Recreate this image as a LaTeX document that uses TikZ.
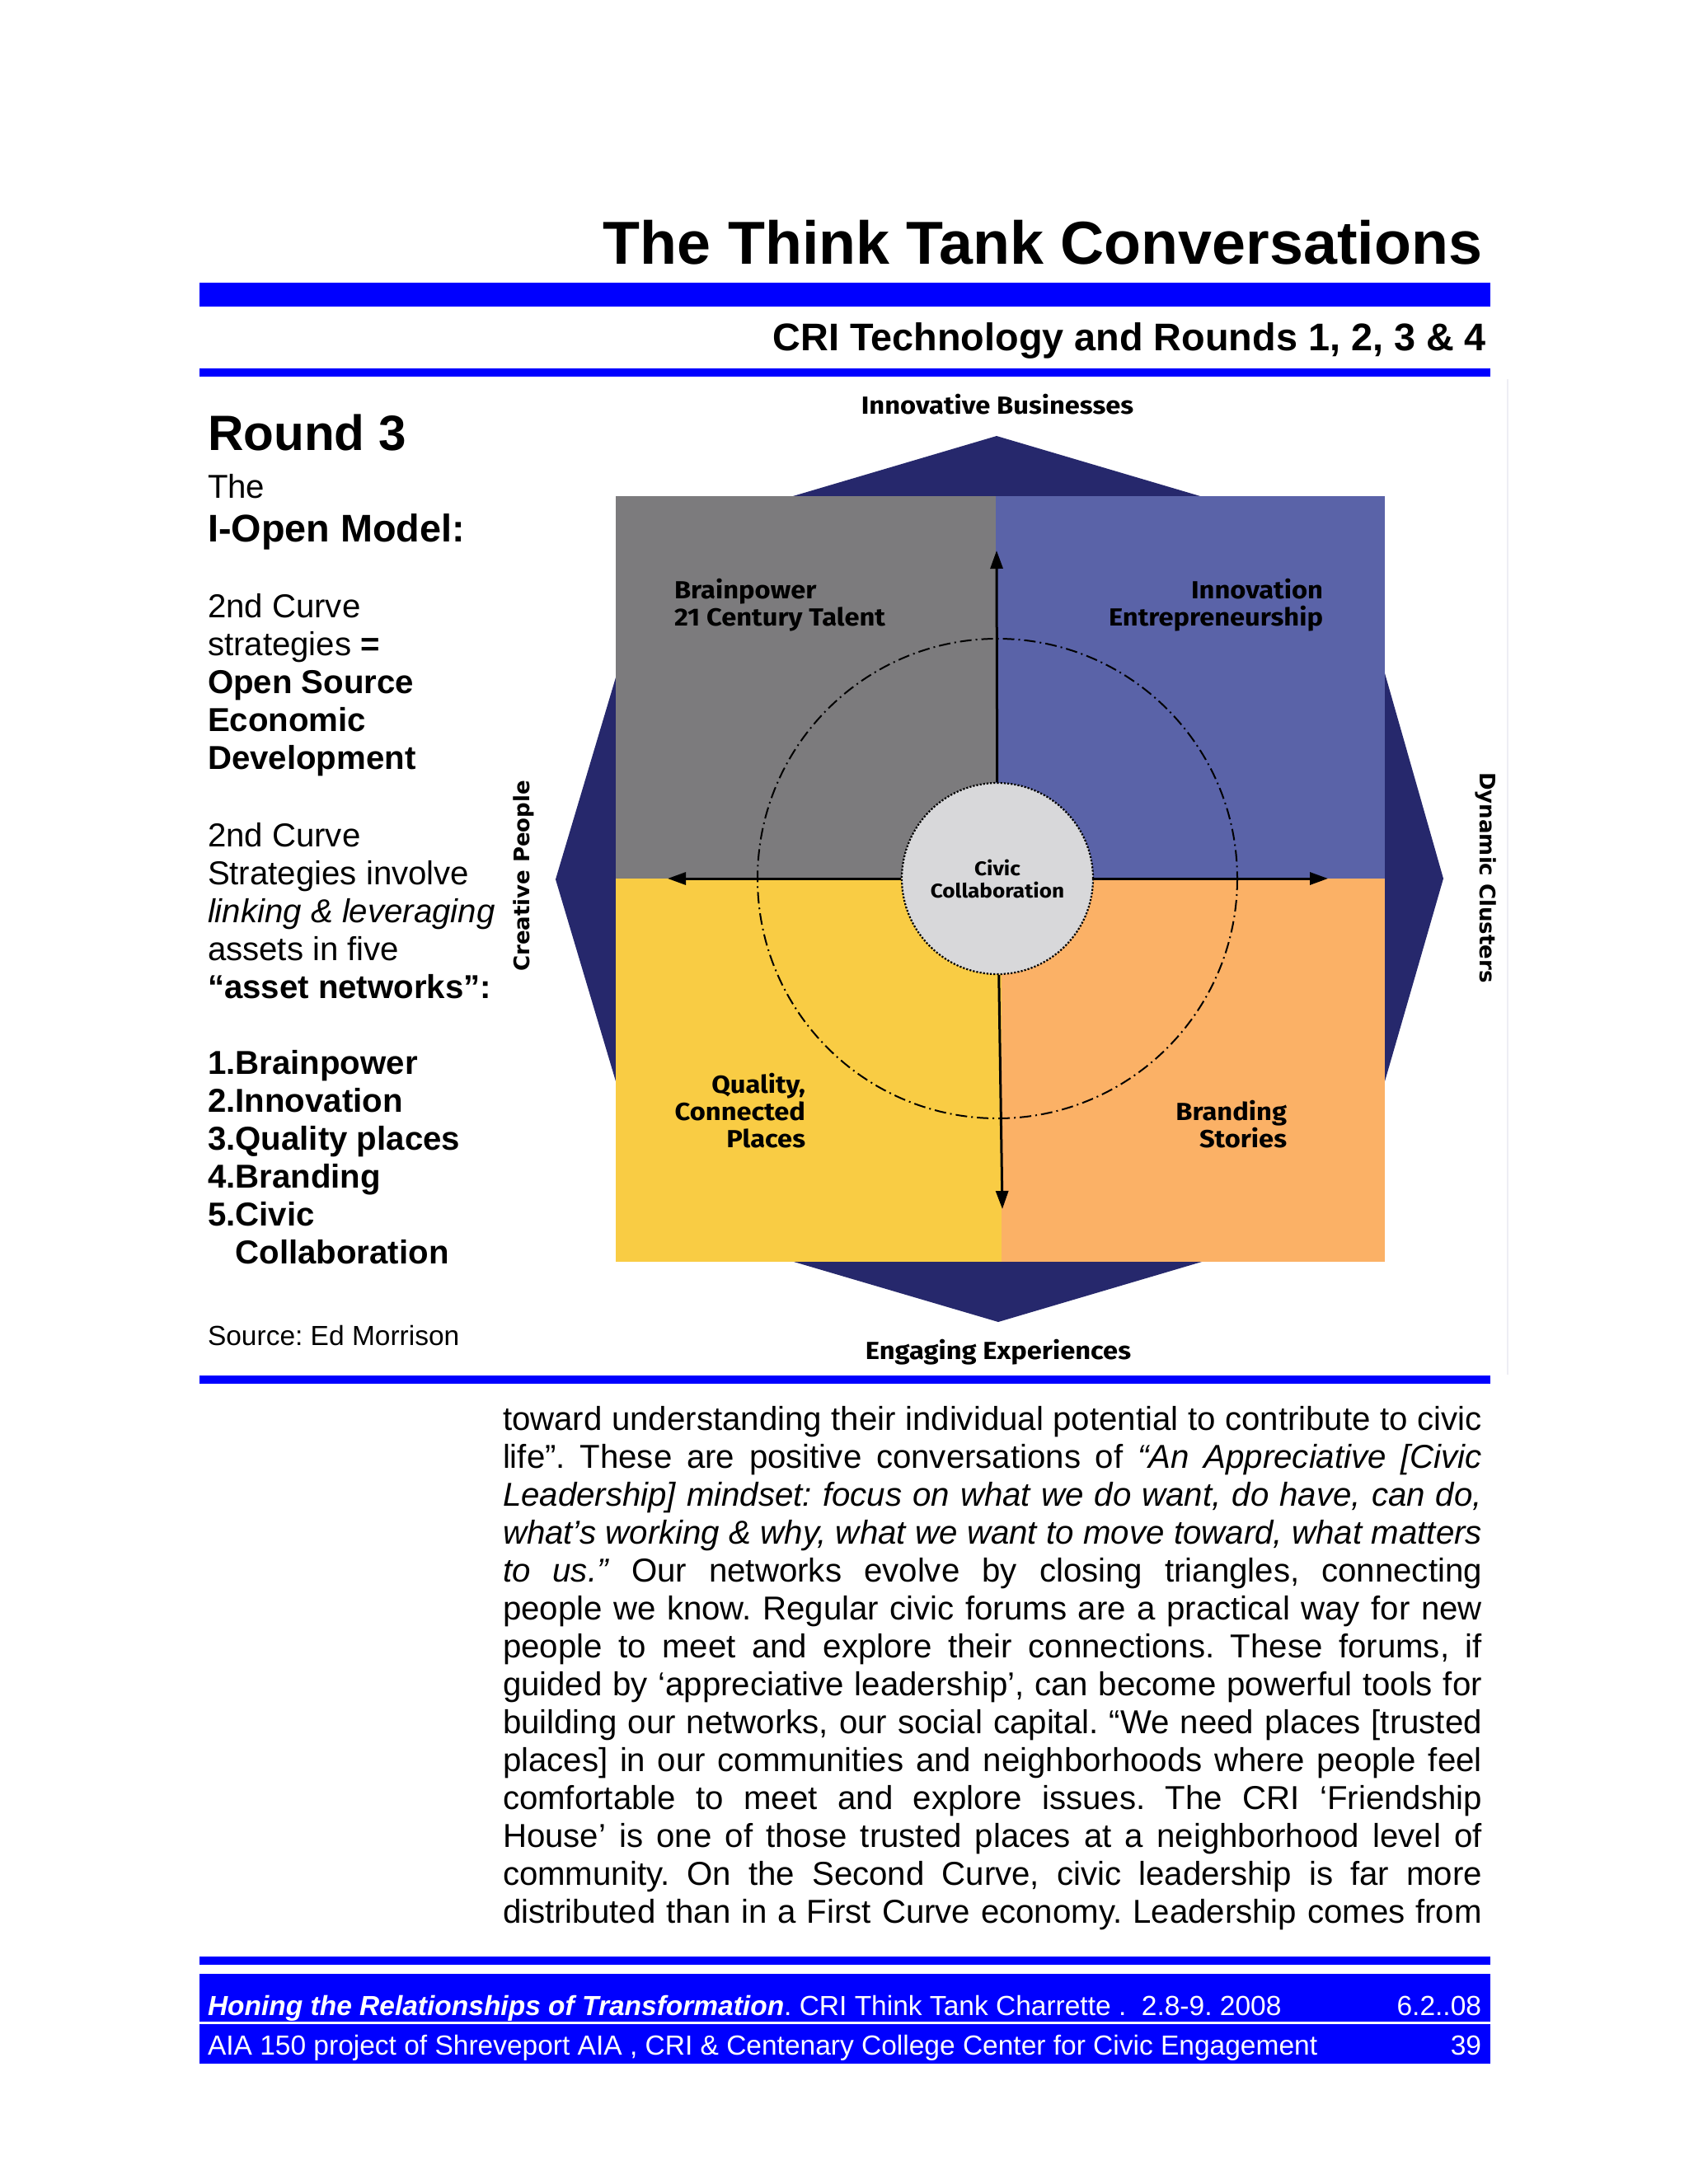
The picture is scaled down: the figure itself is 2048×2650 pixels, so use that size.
\documentclass[tikz,border=0pt]{standalone}
\usepackage{fontspec}
\setmainfont{Liberation Sans}
\newfontfamily\gillfont{Fira Sans}[FakeStretch=1.09]
\newfontfamily\verdfont{DejaVu Sans}
\usetikzlibrary{arrows.meta}
\definecolor{pageblue}{RGB}{0,0,255}
\definecolor{navy}{RGB}{38,40,108}
\definecolor{qgray}{RGB}{124,123,125}
\definecolor{qblue}{RGB}{90,99,168}
\definecolor{qyellow}{RGB}{249,204,68}
\definecolor{qorange}{RGB}{251,177,102}
\definecolor{civgray}{RGB}{216,216,218}
\definecolor{faint}{RGB}{238,238,244}
\newcommand\setfs[2]{\fontsize{#1}{#2}\selectfont}
\frenchspacing
\begin{document}
\begin{tikzpicture}[x=1pt,y=-1pt,
  txt/.style={inner sep=0pt, outer sep=0pt},
  lw/.style={txt, anchor=base west},
  le/.style={txt, anchor=base east},
  body/.style={lw, font=\setfs{40.2}{46}},
  bodyb/.style={lw, font=\bfseries\setfs{40.2}{46}},
  dlab/.style={txt, font=\gillfont\bfseries\setfs{30}{33}},
  slab/.style={txt, font=\verdfont\bfseries\setfs{26}{30}},
  arr/.style={line width=3pt, -{Triangle[length=22pt,width=15pt]}},
  foot/.style={txt, text=white, font=\setfs{33.5}{38}},
  para/.style={lw, font=\frenchspacing\setfs{40.2}{46}}
]
\useasboundingbox (0,0) rectangle (2048,2650);
\fill[white] (0,0) rectangle (2048,2650);

% header
\node[le, font=\bfseries\setfs{73.6}{80}] (title) at (1798,320) {The Think Tank Conversations};
\fill[pageblue] (242,343) rectangle (1808,372);
\node[le, font=\bfseries\setfs{46.8}{54}] (subtitle) at (1803,425) {CRI Technology and Rounds 1, 2, 3 \& 4};
\fill[pageblue] (242,447) rectangle (1808,457);

% left column
\node[lw, font=\bfseries\setfs{60.2}{68}] (round) at (252,546) {Round 3};
\node[body] (lthe) at (252,604) {The};
\node[lw, font=\bfseries\setfs{46.8}{54}] (lmodel) at (252,657) {I-Open Model:};
\node[body] (l1) at (252,749) {2nd Curve};
\node[body] (l2) at (252,795) {strategies \textbf{=}};
\node[bodyb] (l3) at (252,841) {Open Source};
\node[bodyb] (l4) at (252,887) {Economic};
\node[bodyb] (l5) at (252,933) {Development};
\node[body] (l6) at (252,1027) {2nd Curve};
\node[body] (l7) at (252,1073) {Strategies involve};
\node[body] (l8) at (252,1119) {\textit{linking \& leveraging}};
\node[body] (l9) at (252,1165) {assets in five};
\node[bodyb] (l10) at (252,1211) {“asset networks”:};
\node[bodyb] (l11) at (252,1303) {1.Brainpower};
\node[bodyb] (l12) at (252,1349) {2.Innovation};
\node[bodyb] (l13) at (252,1395) {3.Quality places};
\node[bodyb] (l14) at (252,1441) {4.Branding};
\node[bodyb] (l15) at (252,1487) {5.Civic};
\node[bodyb] (l16) at (285.5,1533) {Collaboration};
\node[lw, font=\setfs{33.5}{38}] (lsrc) at (252,1632) {Source: Ed Morrison};

% diagram
\draw[faint, line width=2pt] (1829,460) -- (1829,1668);
\fill[navy] (962,602) -- (1209,529) -- (1456,602) -- (1680,817) -- (1751,1066)
  -- (1680,1312) -- (1458,1531) -- (1211,1604) -- (963,1531) -- (747,1312)
  -- (674,1067) -- (747,822) -- cycle;
\fill[qgray] (747,602) rectangle (1208,1066);
\fill[qblue] (1208,602) rectangle (1680,1066);
\fill[qyellow] (747,1066) rectangle (1215,1531);
\fill[qorange] (1215,1066) rectangle (1680,1531);
\draw[line width=2pt, dash pattern=on 14pt off 5pt on 2pt off 5pt] (1210,1066) circle[radius=291];

\coordinate (uptip) at (1209,668);
\coordinate (lefttip) at (810,1066);
\coordinate (righttip) at (1611,1066);
\coordinate (downtip) at (1216,1467);
\node[circle, minimum size=232pt, inner sep=0pt, fill=civgray, draw=black, dotted, line width=2.2pt,
      align=center, font=\gillfont\bfseries\setfs{24}{27}] (civic) at (1210,1066) {Civic\\Collaboration};
\draw[arr] (civic) -- (uptip);
\draw[arr] (civic) -- (lefttip);
\draw[arr] (civic) -- (righttip);
\draw[arr] (civic) -- (downtip);

\node[dlab, anchor=base] (ib) at (1210,502) {Innovative Businesses};
\node[dlab, anchor=base west] (bp1) at (818,726) {Brainpower};
\node[dlab, anchor=base west] (bp2) at (818,759) {21 Century Talent};
\node[dlab, anchor=base east] (in1) at (1605,726) {Innovation};
\node[dlab, anchor=base east] (in2) at (1605,759) {Entrepreneurship};
\node[dlab, anchor=base east] (q1) at (977,1326) {Quality,};
\node[dlab, anchor=base east] (q2) at (977,1359) {Connected};
\node[dlab, anchor=base east] (q3) at (977,1392) {Places};
\node[dlab, anchor=base east] (b1) at (1561,1359) {Branding};
\node[dlab, anchor=base east] (b2) at (1561,1392) {Stories};
\node[dlab, anchor=base] (ee) at (1211,1649) {Engaging Experiences};
\node[slab, rotate=90] (cp) at (635,1063) {Creative People};
\node[slab, rotate=-90] (dc) at (1803,1065) {Dynamic Clusters};

\fill[pageblue] (242,1669) rectangle (1808,1679);

% body paragraph
\node[para] (p1) at (610,1735) {\makebox[1188pt][s]{toward understanding their individual potential to contribute to civic}};
\node[para] (p2) at (610,1781) {\makebox[1188pt][s]{life”. These are positive conversations of \textit{“An Appreciative [Civic}}};
\node[para] (p3) at (610,1827) {\makebox[1188pt][s]{\textit{Leadership] mindset: focus on what we do want, do have, can do,}}};
\node[para] (p4) at (610,1873) {\makebox[1188pt][s]{\textit{what’s working \& why, what we want to move toward, what matters}}};
\node[para] (p5) at (610,1919) {\makebox[1188pt][s]{\textit{to us.”} Our networks evolve by closing triangles, connecting}};
\node[para] (p6) at (610,1965) {\makebox[1188pt][s]{people we know. Regular civic forums are a practical way for new}};
\node[para] (p7) at (610,2011) {\makebox[1188pt][s]{people to meet and explore their connections. These forums, if}};
\node[para] (p8) at (610,2057) {\makebox[1188pt][s]{guided by ‘appreciative leadership’, can become powerful tools for}};
\node[para] (p9) at (610,2103) {\makebox[1188pt][s]{building our networks, our social capital. “We need places [trusted}};
\node[para] (p10) at (610,2149) {\makebox[1188pt][s]{places] in our communities and neighborhoods where people feel}};
\node[para] (p11) at (610,2195) {\makebox[1188pt][s]{comfortable to meet and explore issues. The CRI ‘Friendship}};
\node[para] (p12) at (610,2241) {\makebox[1188pt][s]{House’ is one of those trusted places at a neighborhood level of}};
\node[para] (p13) at (610,2287) {\makebox[1188pt][s]{community. On the Second Curve, civic leadership is far more}};
\node[para] (p14) at (610,2333) {\makebox[1188pt][s]{distributed than in a First Curve economy. Leadership comes from}};

% footer
\fill[pageblue] (242,2374) rectangle (1808,2384);
\fill[pageblue] (242,2395) rectangle (1808,2453);
\fill[pageblue] (242,2456) rectangle (1808,2504);
\node[foot, anchor=base west] (f1) at (252,2445) {\textbf{\textit{Honing the Relationships of Transformation}}. CRI Think Tank Charrette .\ \ 2.8-9. 2008};
\node[foot, anchor=base east] (f1r) at (1797,2445) {6.2..08};
\node[foot, anchor=base west] (f2) at (252,2493) {AIA 150 project of Shreveport AIA , CRI \& Centenary College Center for Civic Engagement};
\node[foot, anchor=base east] (f2r) at (1797,2493) {39};
\end{tikzpicture}
\end{document}
